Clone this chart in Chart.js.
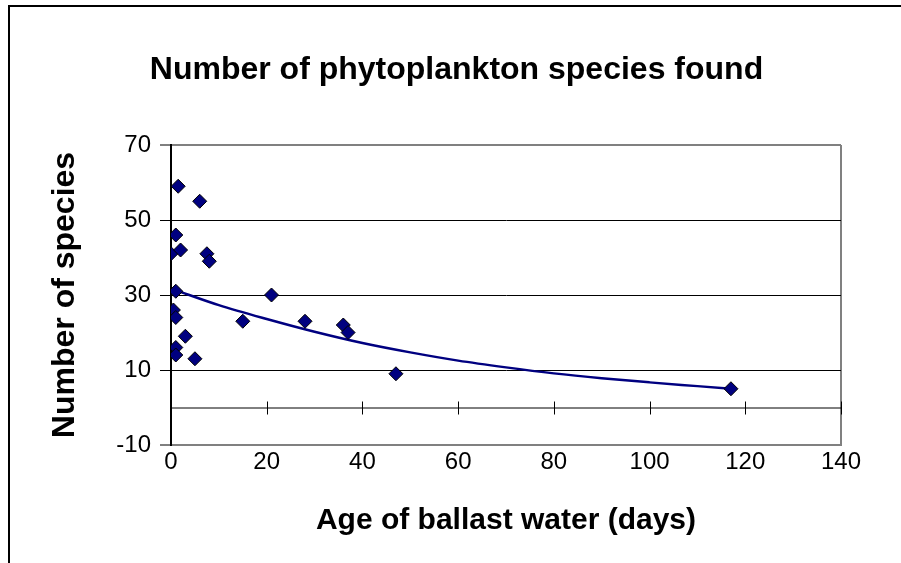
<!DOCTYPE html>
<html>
<head>
<meta charset="utf-8">
<script src="https://cdn.jsdelivr.net/npm/chart.js@4/dist/chart.umd.min.js"></script>
<style>
  html, body { margin: 0; padding: 0; background: #fff; }
  canvas { display: block; }
</style>
</head>
<body>
<canvas id="chart" width="901" height="563"></canvas>
<script>
// ballast water age (days) vs. number of species
const ageDays = [1.5, 6, 1, 0, 2, 7.5, 8, 1, 0.5, 1, 3, 1, 1, 5, 15, 21, 28, 36, 37, 47, 117];
const speciesCount = [59, 55, 46, 41, 42, 41, 39, 31, 26, 24, 19, 16, 14, 13, 23, 30, 23, 22, 20, 9, 5];

// trend line
const trendX = [0.5, 10, 20, 30, 40, 50, 60, 70, 80, 90, 100, 110, 117];
const trendY = [31.5, 27.3, 23.6, 20.2, 17.2, 14.7, 12.5, 10.7, 9.1, 7.8, 6.7, 5.7, 5.0];

const xTicks = [0, 20, 40, 60, 80, 100, 120, 140];
const yTicks = [-10, 10, 30, 50, 70];

const navy = '#000080';
const font = "'Liberation Sans', Arial, sans-serif";

const points = ageDays.map((x, i) => ({ x: x, y: speciesCount[i] }));
const trend = trendX.map((x, i) => ({ x: x, y: trendY[i] }));

// outer frame and the x axis crossing at y = 0
const extras = {
    id: 'extras',
    beforeDraw(chart) {
        const c = chart.ctx;
        c.save();
        c.fillStyle = '#fff';
        c.fillRect(0, 0, chart.width, chart.height);
        c.strokeStyle = '#000';
        c.lineWidth = 2;
        c.beginPath();
        c.moveTo(9, chart.height);
        c.lineTo(9, 6);
        c.lineTo(chart.width, 6);
        c.stroke();
        c.restore();
    },
    beforeDatasetsDraw(chart) {
        const c = chart.ctx;
        const xs = chart.scales.x, ys = chart.scales.y;
        const y0 = ys.getPixelForValue(0);
        c.save();
        c.strokeStyle = '#000';
        c.lineWidth = 1;
        c.beginPath();
        c.moveTo(xs.left, y0 + 0.5);
        c.lineTo(xs.right, y0 + 0.5);
        xTicks.forEach(v => {
            const px = Math.round(xs.getPixelForValue(v)) + 0.5;
            c.moveTo(px, y0 - 6);
            c.lineTo(px, y0 + 7);
        });
        c.stroke();
        c.restore();
    }
};

new Chart(document.getElementById('chart'), {
    type: 'scatter',
    data: {
        datasets: [
            {
                label: 'Species',
                data: points,
                pointStyle: 'rectRot',
                pointRadius: 7,
                pointHoverRadius: 7,
                backgroundColor: navy,
                borderColor: '#000',
                borderWidth: 1,
                order: 0
            },
            {
                label: 'Trend',
                type: 'line',
                data: trend,
                borderColor: navy,
                borderWidth: 2.5,
                pointRadius: 0,
                cubicInterpolationMode: 'monotone',
                fill: false,
                order: 1
            }
        ]
    },
    options: {
        responsive: false,
        animation: false,
        layout: {
            padding: { left: 12, right: 0, top: 0, bottom: 0 }
        },
        scales: {
            x: {
                type: 'linear',
                min: 0,
                max: 140,
                afterBuildTicks: scale => { scale.ticks = xTicks.map(v => ({ value: v })); },
                afterFit: scale => { scale.height = 118; },
                grid: {
                    drawTicks: false,
                    color: ctx => ctx.tick && ctx.tick.value === 140 ? '#808080' : 'rgba(0,0,0,0)',
                    lineWidth: 2
                },
                border: { display: true, color: '#808080', width: 2 },
                ticks: {
                    color: '#000',
                    padding: 3,
                    maxRotation: 0,
                    font: { family: font, size: 24 }
                },
                title: {
                    display: true,
                    text: 'Age of ballast water (days)',
                    color: '#000',
                    font: { family: font, size: 30, weight: 'bold' },
                    padding: { top: 0, bottom: 24 }
                }
            },
            y: {
                min: -10,
                max: 70,
                afterBuildTicks: scale => { scale.ticks = yTicks.map(v => ({ value: v })); },
                afterFit: scale => { scale.width = 159; },
                grid: {
                    color: ctx => (ctx.tick && (ctx.tick.value === 70 || ctx.tick.value === -10)) ? '#808080' : '#000',
                    lineWidth: ctx => (ctx.tick && (ctx.tick.value === 70 || ctx.tick.value === -10)) ? 2 : 1,
                    tickColor: '#000',
                    tickLength: 11,
                    tickWidth: 1
                },
                border: { display: true, color: '#000', width: 2 },
                ticks: {
                    color: '#000',
                    padding: 9,
                    font: { family: font, size: 24 }
                },
                title: {
                    display: true,
                    text: 'Number of species',
                    color: '#000',
                    font: { family: font, size: 32, weight: 'bold' },
                    padding: { top: 34, bottom: 0 }
                }
            },
            // empty right-hand box, keeps the plot edge at 140 while the title centres on the page
            side: {
                position: 'right',
                display: true,
                afterFit: scale => { scale.width = 60; },
                grid: { display: false },
                border: { display: false },
                ticks: { display: false }
            }
        },
        plugins: {
            legend: { display: false },
            tooltip: { enabled: false },
            title: {
                display: true,
                text: 'Number of phytoplankton species found',
                color: '#000',
                font: { family: font, size: 32, weight: 'bold' },
                padding: { top: 51, bottom: 55.6 }
            }
        }
    },
    plugins: [extras]
});
</script>
</body>
</html>
